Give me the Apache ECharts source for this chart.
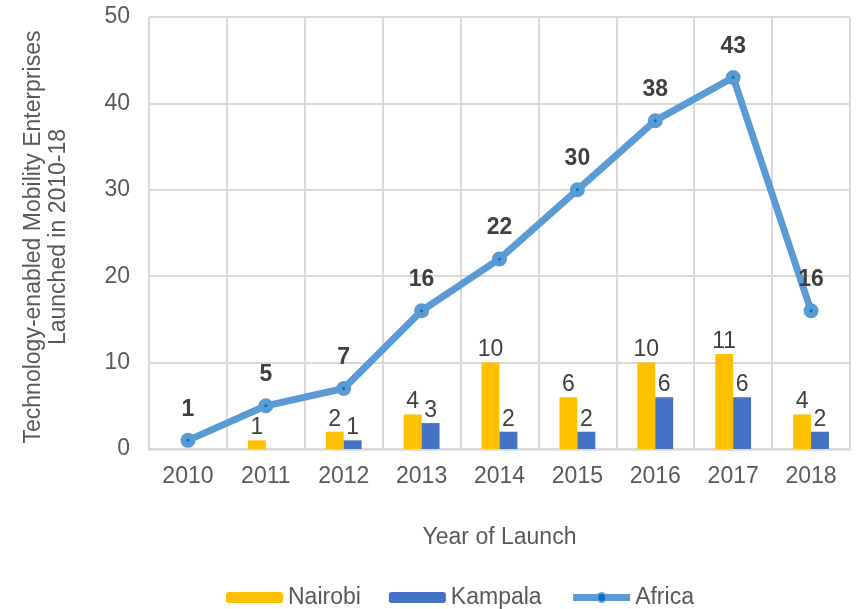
<!DOCTYPE html>
<html>
<head>
<meta charset="utf-8">
<script src="https://cdn.jsdelivr.net/npm/echarts@6/dist/echarts.min.js"></script>
<style>
  html, body { margin: 0; padding: 0; background: #fff; }
  #chart { width: 856px; height: 609px; }
</style>
</head>
<body>
<div id="chart"></div>
<script>
// 数据
var years = ['2010', '2011', '2012', '2013', '2014', '2015', '2016', '2017', '2018'];
var nairobi = [0, 1, 2, 4, 10, 6, 10, 11, 4];
var kampala = [0, 0, 1, 3, 2, 2, 6, 6, 2];
var africa = [1, 5, 7, 16, 22, 30, 38, 43, 16];

var myChart = echarts.init(document.getElementById('chart'));

var fontFamily = 'Arial, "Liberation Sans", sans-serif';

// 0 不显示标签
function hideZero(p) {
    return p.value === 0 ? '' : p.value;
}

var option = {
    textStyle: { fontFamily: fontFamily },
    grid: { left: 149, right: 6, top: 17, bottom: 160 },
    legend: {
        top: 581,
        left: 221,
        itemWidth: 57,
        itemHeight: 11,
        itemGap: 28,
        textStyle: { fontSize: 23, color: '#595959', fontFamily: fontFamily },
        data: ['Nairobi', 'Kampala', {
            name: 'Africa',
            lineStyle: { width: 7 }
        }]
    },
    xAxis: {
        type: 'category',
        data: years,
        name: 'Year of Launch',
        nameLocation: 'middle',
        nameGap: 77,
        nameTextStyle: { fontSize: 23, color: '#595959' },
        axisLine: { lineStyle: { color: '#d9d9d9', width: 2.5 } },
        axisTick: { show: false },
        axisLabel: { fontSize: 23, color: '#595959', margin: 16 },
        splitLine: { show: true, lineStyle: { color: '#d9d9d9', width: 2 } }
    },
    yAxis: {
        type: 'value',
        min: 0,
        max: 50,
        interval: 10,
        name: 'Technology-enabled Mobility Enterprises\nLaunched in 2010-18',
        nameLocation: 'middle',
        nameGap: 78,
        nameTextStyle: { fontSize: 23, color: '#595959', lineHeight: 25, padding: [0, 8, 0, 0] },
        axisLine: { show: false },
        axisTick: { show: false },
        axisLabel: { fontSize: 23, color: '#595959', margin: 19 },
        splitLine: { lineStyle: { color: '#d9d9d9', width: 2 } }
    },
    series: [{
        name: 'Nairobi',
        type: 'bar',
        data: nairobi,
        barGap: '0%',
        barCategoryGap: '54%',
        itemStyle: { color: '#FFC000' },
        label: {
            show: true,
            position: 'top',
            distance: 1,
            fontSize: 23,
            color: '#404040',
            formatter: hideZero
        }
    }, {
        name: 'Kampala',
        type: 'bar',
        data: kampala,
        itemStyle: { color: '#4472C4' },
        label: {
            show: true,
            position: 'top',
            distance: 1,
            fontSize: 23,
            color: '#404040',
            formatter: hideZero
        }
    }, {
        name: 'Africa',
        type: 'line',
        data: africa,
        symbol: 'circle',
        symbolSize: 9,
        lineStyle: { color: '#5B9BD5', width: 7 },
        itemStyle: { color: '#0070C0', borderColor: '#5B9BD5', borderWidth: 6 },
        label: {
            show: true,
            position: 'top',
            distance: 12,
            fontSize: 23,
            fontWeight: 'bold',
            color: '#404040'
        },
        z: 5
    }]
};

myChart.setOption(option);
</script>
</body>
</html>
